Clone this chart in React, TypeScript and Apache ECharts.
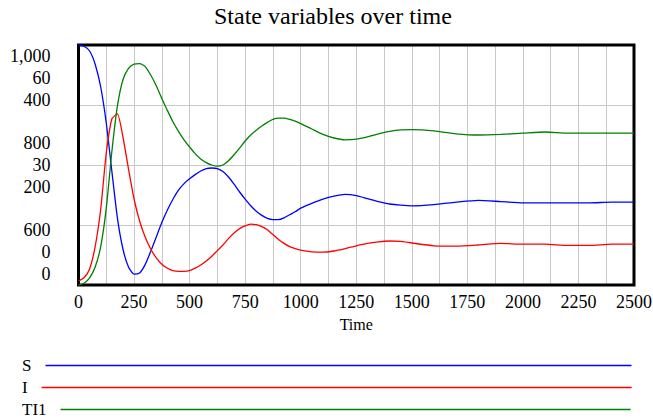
import React, { useEffect, useRef } from "react";
import * as echarts from "echarts";

const times = [
  0, 25, 50, 75, 100, 125, 150, 175, 200, 225, 250, 275, 300, 325, 350, 375, 400, 425, 450, 475, 500,
  525, 550, 575, 600, 625, 650, 675, 700, 725, 750, 775, 800, 825, 850, 875, 900, 925, 950, 975, 1000,
  1050, 1100, 1150, 1200, 1250, 1300, 1350, 1400, 1450, 1500,
  1600, 1700, 1800, 1900, 2000, 2100, 2200, 2300, 2400, 2500,
];
const sValues = [
  1000, 998, 990, 968, 930, 870, 790, 712, 660, 630, 618, 620, 634, 656, 680, 704, 725, 743, 758, 769, 777,
  784, 790, 794, 795, 794, 789, 780, 768, 755, 743, 732, 723, 716, 711, 709, 709, 712, 717, 722, 728,
  736, 743, 748, 751, 749, 744, 739, 735, 733, 732,
  734, 738, 741, 739, 737, 737, 737, 737, 738, 738,
];
const iValues = [
  1, 1.8, 4, 9.6, 19, 33, 41.5, 42.8, 37, 29, 21.5, 16, 12, 9, 6.8, 5.2, 4.2, 3.6, 3.4, 3.4, 3.6,
  4.2, 5, 6, 7.2, 8.6, 10, 11.6, 13, 14.1, 14.8, 15.2, 15.1, 14.6, 13.8, 12.6, 11.4, 10.4, 9.6, 9.1, 8.7,
  8.3, 8.2, 8.5, 9.1, 9.8, 10.4, 10.8, 11, 10.9, 10.5,
  9.8, 9.7, 10, 10.4, 10.2, 10.2, 9.9, 9.9, 10.2, 10.2,
];
const ti1Values = [
  0, 3, 12, 30, 64, 128, 222, 298, 342, 361, 368, 369, 364, 350, 332, 311, 291, 272, 256, 242, 230,
  219, 210, 204, 200, 198, 200, 207, 217, 228, 240, 250, 258, 265, 271, 276, 278, 278, 276, 273, 269,
  260, 251, 245, 242, 243, 247, 252, 256, 258.5, 259,
  257, 252, 250, 251, 253, 255, 253, 253, 253, 253,
];

const seriesNames = ["S", "I", "TI1"];
const seriesColors = ["#0000ff", "#ff0000", "#008000"];
const xTicks = { min: 0, max: 2500, step: 125 };
const sAxis = { min: 600, max: 1000, step: 100 };
const iAxis = { min: 0, max: 60, step: 15 };
const tAxis = { min: 0, max: 400, step: 100 };

const FONT = "Liberation Serif, Times New Roman, serif";

export default function App() {
  const ref = useRef<HTMLDivElement>(null);
  useEffect(() => {
    if (!ref.current) return;
    const chart = echarts.init(ref.current, undefined, { renderer: "svg" });
    const yLabelBase = {
      fontFamily: FONT,
      fontSize: 18,
      color: "#000",
      lineHeight: 22,
      margin: 28,
      showMinLabel: true,
      showMaxLabel: true,
    };
    const sLabel = (v: number) =>
      v === 1000 ? "\n1,000" : v === 800 ? "800\n\n" : v === 600 ? "600\n\n\n\n\n" : "";
    const iLabel = (v: number) =>
      v === 60 ? "\n\n\n60" : v === 30 ? "30" : v === 0 ? "0\n\n\n" : "";
    const tLabel = (v: number) =>
      v === 400 ? "\n\n\n\n\n400" : v === 200 ? "\n\n200" : v === 0 ? "0\n" : "";
    const mk = (vals: number[]) => times.map((t, i) => [t, vals[i]]);
    const allVals = [sValues, iValues, ti1Values];
    const legendTops = [357, 379, 401];
    const legendWidths = [586, 590, 570];
    chart.setOption({
      animation: false,
      title: {
        text: "State variables over time",
        left: 214,
        top: 4,
        padding: 0,
        textStyle: { fontFamily: FONT, fontSize: 24, fontWeight: "normal", color: "#000" },
      },
      legend: seriesNames.map((n, i) => ({
        data: [n],
        left: 22,
        top: legendTops[i],
        padding: 0,
        align: "right",
        icon: "rect",
        itemWidth: legendWidths[i],
        itemHeight: 1.6,
        selectedMode: false,
        textStyle: { fontFamily: FONT, fontSize: 17, color: "#000", padding: [0, 9, 0, 0] },
      })),
      grid: {
        left: 78.5,
        right: 19,
        top: 45,
        bottom: 134,
        show: true,
        borderColor: "#000",
        borderWidth: 3,
        containLabel: false,
        outerBoundsMode: "none",
        z: 3,
      },
      xAxis: {
        type: "value",
        min: xTicks.min,
        max: xTicks.max,
        interval: xTicks.step,
        name: "Time",
        nameLocation: "middle",
        nameGap: 31,
        nameTextStyle: { fontFamily: FONT, fontSize: 16, color: "#000" },
        axisLine: { show: false },
        axisTick: { show: false },
        splitLine: { show: true, lineStyle: { color: "#c8c8c8", width: 1 } },
        axisLabel: {
          fontFamily: FONT,
          fontSize: 18,
          color: "#000",
          margin: 8,
          showMinLabel: true,
          showMaxLabel: true,
          formatter: (v: number) => (v % 250 === 0 ? String(v) : ""),
        },
      },
      yAxis: [
        {
          type: "value",
          min: sAxis.min,
          max: sAxis.max,
          interval: sAxis.step,
          position: "left",
          axisLine: { show: false },
          axisTick: { show: false },
          splitLine: { show: true, lineStyle: { color: "#c8c8c8", width: 1 } },
          axisLabel: { ...yLabelBase, formatter: sLabel },
        },
        {
          type: "value",
          min: iAxis.min,
          max: iAxis.max,
          interval: iAxis.step,
          position: "left",
          axisLine: { show: false },
          axisTick: { show: false },
          splitLine: { show: false },
          axisLabel: { ...yLabelBase, formatter: iLabel },
        },
        {
          type: "value",
          min: tAxis.min,
          max: tAxis.max,
          interval: tAxis.step,
          position: "left",
          axisLine: { show: false },
          axisTick: { show: false },
          splitLine: { show: false },
          axisLabel: { ...yLabelBase, formatter: tLabel },
        },
      ],
      series: seriesNames.map((n, i) => ({
        name: n,
        type: "line",
        yAxisIndex: i,
        data: mk(allVals[i]),
        smooth: 0.2,
        showSymbol: false,
        symbol: "none",
        color: seriesColors[i],
        itemStyle: { color: seriesColors[i] },
        lineStyle: { color: seriesColors[i], width: 1.3 },
      })),
    });
    return () => chart.dispose();
  }, []);
  return (
    <div
      ref={ref}
      style={{ position: "absolute", left: 0, top: 0, width: 653, height: 419 }}
    />
  );
}
